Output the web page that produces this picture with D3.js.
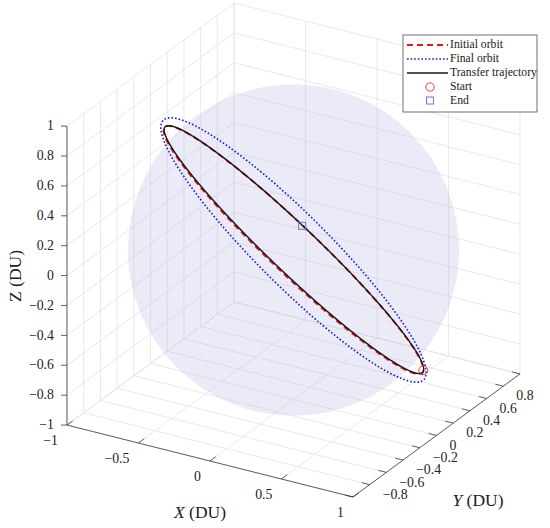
<!DOCTYPE html>
<html>
<head>
<meta charset="utf-8">
<script src="https://cdn.jsdelivr.net/npm/d3@7"></script>
<style>
  body { margin: 0; background: #fff; }
  svg text { font-family: "Liberation Serif", "Times New Roman", serif; fill: #222; }
</style>
</head>
<body>
<svg id="chart" width="550" height="528"></svg>
<script>
// axis ticks
const xTicks = [-1, -0.5, 0, 0.5, 1];
const xTickLabels = ["\u22121", "\u22120.5", "0", "0.5", "1"];
const yTicks = [-1, -0.8, -0.6, -0.4, -0.2, 0, 0.2, 0.4, 0.6, 0.8, 1];
const yTickLabels = ["", "\u22120.8", "\u22120.6", "\u22120.4", "\u22120.2", "0", "0.2", "0.4", "0.6", "0.8", ""];
const zTicks = [-1, -0.8, -0.6, -0.4, -0.2, 0, 0.2, 0.4, 0.6, 0.8, 1];
const zTickLabels = ["\u22121", "\u22120.8", "\u22120.6", "\u22120.4", "\u22120.2", "0", "0.2", "0.4", "0.6", "0.8", "1"];

// orbits: semi-major axis (DU), eccentricity, inclination, RAAN, arg. of perigee,
// start / end argument of latitude (deg)
const orbitNames = ["Initial orbit", "Final orbit", "Transfer trajectory"];
const orbitSma = [1.075, 1.11, 1.075];
const orbitEcc = [0, 0, 0.025];
const orbitInc = [45.14, 44.7, 45.24];
const orbitRaan = [135.6, 130.4, 135.83];
const orbitArgp = [0, 0, 150.8];
const orbitFrom = [0, 0, 247.8];
const orbitTo = [360, 360, -385.1];

// start / end states (DU)
const startPt = [0.781, 0.217, -0.706];
const endPt = [-0.469, 0.906, -0.324];
const earthRadius = 1;

const svg = d3.select("svg#chart");

// view
const az = 30.3 * Math.PI / 180, el = 25.5 * Math.PI / 180;
const cx = 293.5, cy = 250;
const X = d3.scaleLinear().domain([-1, 1]).range([-165.6, 165.6]);
const Y = d3.scaleLinear().domain([-1, 1]).range([-165.6, 165.6]);
const Z = d3.scaleLinear().domain([-1, 1]).range([-165.6, 165.6]);

function proj(x, y, z) {
  const px = X(x), py = Y(y), pz = Z(z);
  const sx = Math.cos(az) * px + Math.sin(az) * py;
  const sy = -Math.sin(el) * Math.sin(az) * px + Math.sin(el) * Math.cos(az) * py + Math.cos(el) * pz;
  return [cx + sx, cy - sy];
}

const line = d3.line();

// grid on the back planes
const grid = svg.append("g").attr("stroke", "#e0e0e0").attr("stroke-width", 0.7).attr("fill", "none");
// floor z=-1
xTicks.forEach(t => grid.append("path").attr("d", line([proj(t, -1, -1), proj(t, 1, -1)])));
yTicks.forEach(t => grid.append("path").attr("d", line([proj(-1, t, -1), proj(1, t, -1)])));
// wall x=-1
yTicks.forEach(t => grid.append("path").attr("d", line([proj(-1, t, -1), proj(-1, t, 1)])));
zTicks.forEach(t => grid.append("path").attr("d", line([proj(-1, -1, t), proj(-1, 1, t)])));
// wall y=1
xTicks.forEach(t => grid.append("path").attr("d", line([proj(t, 1, -1), proj(t, 1, 1)])));
zTicks.forEach(t => grid.append("path").attr("d", line([proj(-1, 1, t), proj(1, 1, t)])));

// axes lines and ticks
const ax = svg.append("g").attr("stroke", "#3a3a3a").attr("stroke-width", 0.8).attr("fill", "none");
ax.append("path").attr("d", line([proj(-1, -1, -1), proj(1, -1, -1)]));
ax.append("path").attr("d", line([proj(1, -1, -1), proj(1, 1, -1)]));
ax.append("path").attr("d", line([proj(-1, -1, -1), proj(-1, -1, 1)]));
xTicks.forEach(t => ax.append("path").attr("d", line([proj(t, -1, -1), proj(t, -0.93, -1)])));
yTicks.forEach(t => ax.append("path").attr("d", line([proj(1, t, -1), proj(0.945, t, -1)])));
zTicks.forEach(t => {
  const p = proj(-1, -1, t);
  ax.append("path").attr("d", line([p, [p[0] - 6, p[1]]]));
});

// tick labels
const lab = svg.append("g").attr("font-size", 13.8);
xTicks.forEach((t, i) => {
  const p = proj(t, -1, -1);
  lab.append("text").attr("x", p[0] - 9).attr("y", p[1] + 17)
    .attr("text-anchor", "end").attr("dominant-baseline", "middle").text(xTickLabels[i]);
});
yTicks.forEach((t, i) => {
  const p = proj(1, t, -1);
  lab.append("text").attr("x", p[0] + 13).attr("y", p[1] + 11)
    .attr("text-anchor", "start").attr("dominant-baseline", "middle").text(yTickLabels[i]);
});
zTicks.forEach((t, i) => {
  const p = proj(-1, -1, t);
  lab.append("text").attr("x", p[0] - 13).attr("y", p[1] + 1)
    .attr("text-anchor", "end").attr("dominant-baseline", "middle").text(zTickLabels[i]);
});

// axis titles
const xl = svg.append("text").attr("x", 200).attr("y", 514).attr("font-size", 17.5)
  .attr("text-anchor", "middle").attr("dominant-baseline", "middle");
xl.append("tspan").attr("font-style", "italic").text("X");
xl.append("tspan").text(" (DU)");
const yl = svg.append("text").attr("x", 478).attr("y", 502).attr("font-size", 17.5)
  .attr("text-anchor", "middle").attr("dominant-baseline", "middle");
yl.append("tspan").attr("font-style", "italic").text("Y");
yl.append("tspan").text(" (DU)");
svg.append("text").attr("transform", "translate(17,276) rotate(-90)").attr("font-size", 17.5)
  .attr("text-anchor", "middle").attr("dominant-baseline", "middle").text("Z (DU)");

// Earth
const o = proj(0, 0, 0);
svg.append("circle").attr("cx", o[0]).attr("cy", o[1]).attr("r", X(earthRadius) - X(0))
  .attr("fill", "#b9bce1").attr("fill-opacity", 0.3);

// orbits
function orbitPoints(k) {
  const a = orbitSma[k], e = orbitEcc[k];
  const inc = orbitInc[k] * Math.PI / 180, raan = orbitRaan[k] * Math.PI / 180, w = orbitArgp[k] * Math.PI / 180;
  const n = Math.round(Math.abs(orbitTo[k] - orbitFrom[k]) * 2);
  return d3.range(n + 1).map(j => {
    const u = (orbitFrom[k] + (orbitTo[k] - orbitFrom[k]) * j / n) * Math.PI / 180;
    const r = a * (1 - e * e) / (1 + e * Math.cos(u - w));
    return proj(
      r * (Math.cos(raan) * Math.cos(u) - Math.sin(raan) * Math.sin(u) * Math.cos(inc)),
      r * (Math.sin(raan) * Math.cos(u) + Math.cos(raan) * Math.sin(u) * Math.cos(inc)),
      r * Math.sin(u) * Math.sin(inc));
  });
}
const styles = [
  { stroke: "#e8141a", width: 1.9, dash: "6,4" },
  { stroke: "#1a1ac8", width: 1.6, dash: "1.6,2" },
  { stroke: "#161616", width: 1.4, dash: null }
];
[1, 0, 2].forEach(k => {
  svg.append("path").attr("d", line(orbitPoints(k))).attr("fill", "none")
    .attr("stroke", styles[k].stroke).attr("stroke-width", styles[k].width)
    .attr("stroke-dasharray", styles[k].dash);
});

const sp = proj(...startPt), ep = proj(...endPt);
svg.append("circle").attr("cx", sp[0]).attr("cy", sp[1]).attr("r", 4.5)
  .attr("fill", "none").attr("stroke", "#f03a3a").attr("stroke-width", 1);
svg.append("rect").attr("x", ep[0] - 3.5).attr("y", ep[1] - 3.5).attr("width", 7).attr("height", 7)
  .attr("fill", "none").attr("stroke", "#7474d4").attr("stroke-width", 1);

// legend
const lg = svg.append("g").attr("transform", "translate(403,35)");
lg.append("rect").attr("width", 134).attr("height", 77).attr("fill", "#fff")
  .attr("stroke", "#333").attr("stroke-width", 0.7);
const rowY = [10, 24, 38, 52, 65.5];
const legendNames = orbitNames.concat(["Start", "End"]);
[0, 1, 2].forEach(k => {
  lg.append("path").attr("d", line([[4, rowY[k]], [45, rowY[k]]])).attr("fill", "none")
    .attr("stroke", styles[k].stroke).attr("stroke-width", styles[k].width)
    .attr("stroke-dasharray", styles[k].dash);
});
lg.append("circle").attr("cx", 27).attr("cy", rowY[3]).attr("r", 4.2)
  .attr("fill", "none").attr("stroke", "#f03a3a").attr("stroke-width", 1);
lg.append("rect").attr("x", 23.5).attr("y", rowY[4] - 3.5).attr("width", 7).attr("height", 7)
  .attr("fill", "none").attr("stroke", "#7474d4").attr("stroke-width", 1);
legendNames.forEach((name, k) => {
  lg.append("text").attr("x", 47).attr("y", rowY[k] + 0.5).attr("font-size", 11.7)
    .attr("dominant-baseline", "middle").text(name);
});
</script>
</body>
</html>
